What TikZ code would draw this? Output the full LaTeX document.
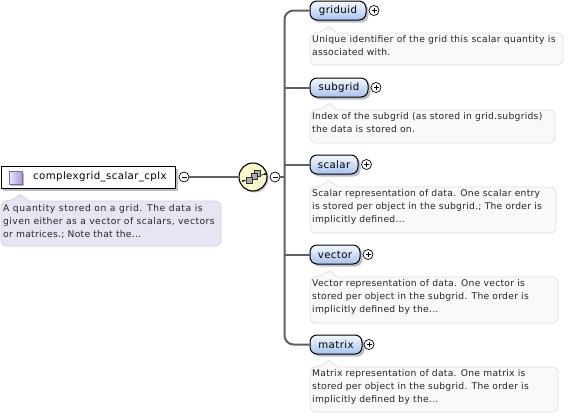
\documentclass[tikz,border=0pt]{standalone}
\usepackage{fontspec}
\setmainfont{DejaVu Sans}
\usetikzlibrary{shapes.misc,calc,shadows}
\definecolor{pillTop}{RGB}{244,248,254}
\definecolor{pillBot}{RGB}{168,194,238}
\definecolor{conn}{RGB}{96,96,96}
\definecolor{shadowc}{RGB}{190,190,200}
\definecolor{cmtfill}{RGB}{249,249,249}
\definecolor{cmtline}{RGB}{224,224,224}
\definecolor{rootcmt}{RGB}{232,229,242}
\definecolor{rootcmtline}{RGB}{208,204,224}
\definecolor{seqfill}{RGB}{252,250,205}
\definecolor{iconL}{RGB}{232,228,250}
\definecolor{iconR}{RGB}{170,152,214}
\definecolor{iconB}{RGB}{120,105,170}
\tikzset{
  x=1pt,y=-1pt,
  conline/.style={draw=conn,line width=2pt},
  pill/.style={rectangle,rounded corners=7pt,draw=black,line width=1pt,top color=pillTop,bottom color=pillBot,
    minimum height=19pt,inner sep=0pt,anchor=west,font=\fontsize{10.2}{12}\selectfont\addfontfeature{LetterSpace=3.8},
    general shadow={shadow xshift=2.5pt,shadow yshift=-2.5pt,fill=shadowc}},
  expander/.style={circle,draw=black,line width=.7pt,fill=white,minimum size=10pt,inner sep=0pt},
  cmt/.style={font=\fontsize{9.2}{13}\selectfont\addfontfeature{LetterSpace=2.8},text=black!85,anchor=north west,align=left,inner sep=0pt},
}
\newcommand{\cmtbox}[7]{% x1 y1 x2 y2 px fill line
  \draw[fill=#6,draw=#7,line width=.7pt,rounded corners=6pt]
    (#5+9,#2) -- (#3,#2) -- (#3,#4) -- (#1,#4) -- (#1,#2) -- (#5-9,#2)
    [sharp corners] -- (#5,#2-6.5) -- (#5+9,#2) -- cycle;
}
\newcommand{\plusc}[2]{\node[expander] (#1) at #2 {};
  \draw[line width=.7pt] ($(#1)+(-2.5,0)$) -- ($(#1)+(2.5,0)$) ($(#1)+(0,-2.5)$) -- ($(#1)+(0,2.5)$);}
\newcommand{\minusc}[2]{\node[expander] (#1) at #2 {};
  \draw[line width=.7pt] ($(#1)+(-2.5,0)$) -- ($(#1)+(2.5,0)$);}
\begin{document}
\begin{tikzpicture}
\useasboundingbox (0,0) rectangle (573,416);
\fill[white] (0,0) rectangle (573,416);
% root
\fill[shadowc] (3,169) rectangle (178,191);
\node[draw=black,line width=1pt,fill=white,minimum width=174.5pt,minimum height=22pt,inner sep=0pt,anchor=north west] (root) at (.5,166) {};
\node[anchor=west,inner sep=0pt,font=\fontsize{10.2}{12}\selectfont\addfontfeature{LetterSpace=3.8}] (roott) at (33,177) {complexgrid\_scalar\_cplx};
\fill[shadowc] (11,173) rectangle (24,186);
\draw[draw=iconB,left color=iconL,right color=iconR,line width=.8pt] (9.5,171.5) rectangle (22,184);
\cmtbox{1}{201}{221}{246}{20}{rootcmt}{rootcmtline}
\node[cmt] (c0) at (3,204) {{\addfontfeature{LetterSpace=6.3}A quantity stored on a grid. The data is}\\{\addfontfeature{LetterSpace=4.6}given either as a vector of scalars, vectors}\\or matrices.; Note that the...};
% sequence
\minusc{m1}{(184,177)}
\node[circle,minimum size=28pt,inner sep=0pt,draw=black,line width=1.1pt,fill=seqfill,general shadow={shadow xshift=1.5pt,shadow yshift=-1.5pt,fill=shadowc}] (seq) at (253,177) {};
\draw[conline] (m1) -- (seq);
\minusc{m2}{(275,177)}
\coordinate (trunk) at (285,177);
\draw[conline] (m2) -- (trunk);
\draw[line width=.8pt,black!80] (243,181) -- (265,174);
\filldraw[fill=gray!65,draw=black!80,line width=.6pt] (254,170.5) rectangle (260,176.5);
\filldraw[fill=gray!65,draw=black!80,line width=.6pt] (251,173.5) rectangle (257,179.5);
\filldraw[fill=gray!65,draw=black!80,line width=.6pt] (246,177) rectangle (252,183);
\fill[black] (243,181) circle (1.2) (265,174) circle (1.2);
% elements
\node[pill,minimum width=56pt] (griduid) at (309.5,10.5) {griduid};
\node[pill,minimum width=58pt] (subgrid) at (309.5,87.5) {subgrid};
\node[pill,minimum width=48pt] (scalar) at (309.5,164.5) {scalar};
\node[pill,minimum width=50pt] (vector) at (309.5,254.5) {vector};
\node[pill,minimum width=52pt] (matrix) at (309.5,344.5) {matrix};
\draw[conline,rounded corners=9pt] (griduid.west) -- (284.5,10.5) -- (284.5,344.5) -- (matrix.west);
\draw[conline] (subgrid.west) -- (284.5,87.5);
\draw[conline] (scalar.west) -- (284.5,164.5);
\draw[conline] (vector.west) -- (284.5,254.5);
\plusc{p1}{(374,10.5)}
\plusc{p2}{(376,87.5)}
\plusc{p3}{(366.5,164.5)}
\plusc{p4}{(368,254.5)}
\plusc{p5}{(369,344.5)}
% comments
\cmtbox{310}{33}{563}{65}{329}{cmtfill}{cmtline}
\node[cmt] (c1) at (312,35.5) {{\addfontfeature{LetterSpace=3.6}Unique identifier of the grid this scalar quantity is}\\associated with.};
\cmtbox{310}{110}{555}{143}{329}{cmtfill}{cmtline}
\node[cmt] (c2) at (312,112.5) {Index of the subgrid (as stored in grid.subgrids)\\the data is stored on.};
\cmtbox{310}{187}{556}{233}{329}{cmtfill}{cmtline}
\node[cmt] (c3) at (312,189.5) {Scalar representation of data. One scalar entry\\is stored per object in the subgrid.; The order is\\implicitly defined...};
\cmtbox{310}{277}{558}{323}{329}{cmtfill}{cmtline}
\node[cmt] (c4) at (312,279.5) {Vector representation of data. One vector is\\stored per object in the subgrid. The order is\\implicitly defined by the...};
\cmtbox{310}{367}{558}{412}{329}{cmtfill}{cmtline}
\node[cmt] (c5) at (312,369.5) {Matrix representation of data. One matrix is\\stored per object in the subgrid. The order is\\implicitly defined by the...};
\end{tikzpicture}
\end{document}
